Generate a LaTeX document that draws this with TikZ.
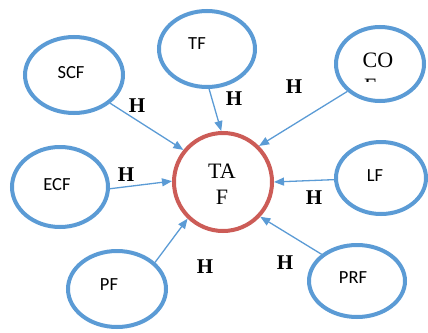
\documentclass[tikz,border=0pt]{standalone}
\usepackage{fontspec}
\setmainfont{Liberation Serif}
\newfontfamily\calib{Carlito}
\usetikzlibrary{shapes.geometric,arrows.meta}
\definecolor{eblue}{RGB}{91,155,213}
\definecolor{cred}{RGB}{204,92,87}
\tikzset{
  oval/.style={ellipse,draw=eblue,line width=4pt,inner sep=0pt},
  hub/.style={circle,draw=cred,line width=4pt,inner sep=0pt,minimum size=98pt},
  lab/.style={font=\calib\fontsize{18.5}{20}\selectfont,inner sep=0pt},
  slab/.style={font=\fontsize{22}{26}\selectfont,inner sep=0pt},
  hl/.style={font=\bfseries\fontsize{21}{24}\selectfont,inner sep=0pt},
  link/.style={draw=eblue,line width=1.3pt,-{Triangle[length=10pt,width=8pt]}}
}
\begin{document}
\begin{tikzpicture}[x=1pt,y=-1pt]
\useasboundingbox (0,0) rectangle (428,332);
% ovals
\node[oval,minimum width=98pt,minimum height=76pt] (SCF) at (74,75) {};
\node[oval,minimum width=96pt,minimum height=76pt] (TF) at (207,49) {};
\node[oval,minimum width=88pt,minimum height=74pt] (CO) at (380,64) {};
\node[oval,minimum width=96pt,minimum height=80pt] (ECF) at (60,187) {};
\node[oval,minimum width=90pt,minimum height=72pt] (LF) at (381,178) {};
\node[oval,minimum width=98pt,minimum height=76pt] (PF) at (117,289) {};
\node[oval,minimum width=96pt,minimum height=72pt] (PRF) at (357,281) {};
\node[hub] (TAF) at (223,182) {};
% texts
\node[lab] (tSCF) at (71,73) {SCF};
\node[lab] (tTF) at (197,44) {TF};
\node[lab] (tECF) at (57,185) {ECF};
\node[lab] (tLF) at (375,176) {LF};
\node[lab] (tPF) at (109,285) {PF};
\node[lab] (tPRF) at (353,278) {PRF};
\node[slab,anchor=base] (tTA) at (222,178) {TA};
\node[slab,anchor=base] (tF) at (222,204) {F};
\node[slab,anchor=base] (tCO) at (378,67) {CO};
\begin{scope}
\clip (340,70) rectangle (420,81);
\node[slab,anchor=base west] (tCOF) at (364,93) {F};
\end{scope}
% links
\draw[link] (SCF.-38) -- (TAF.141);
\draw[link] (TF.-87) -- (TAF.92);
\draw[link] (CO.220) -- (TAF.45);
\draw[link] (ECF.-2) -- (TAF.179);
\draw[link] (LF.182) -- (TAF.0);
\draw[link] (PF.35) -- (TAF.226);
\draw[link] (PRF.143) -- (TAF.-43);
% H labels
\node[hl] (h1) at (137,106) {H};
\node[hl] (h2) at (234,99) {H};
\node[hl] (h3) at (294,87) {H};
\node[hl] (h4) at (126,175) {H};
\node[hl] (h5) at (314,198) {H};
\node[hl] (h6) at (205,267) {H};
\node[hl] (h7) at (285,263) {H};
\end{tikzpicture}
\end{document}
